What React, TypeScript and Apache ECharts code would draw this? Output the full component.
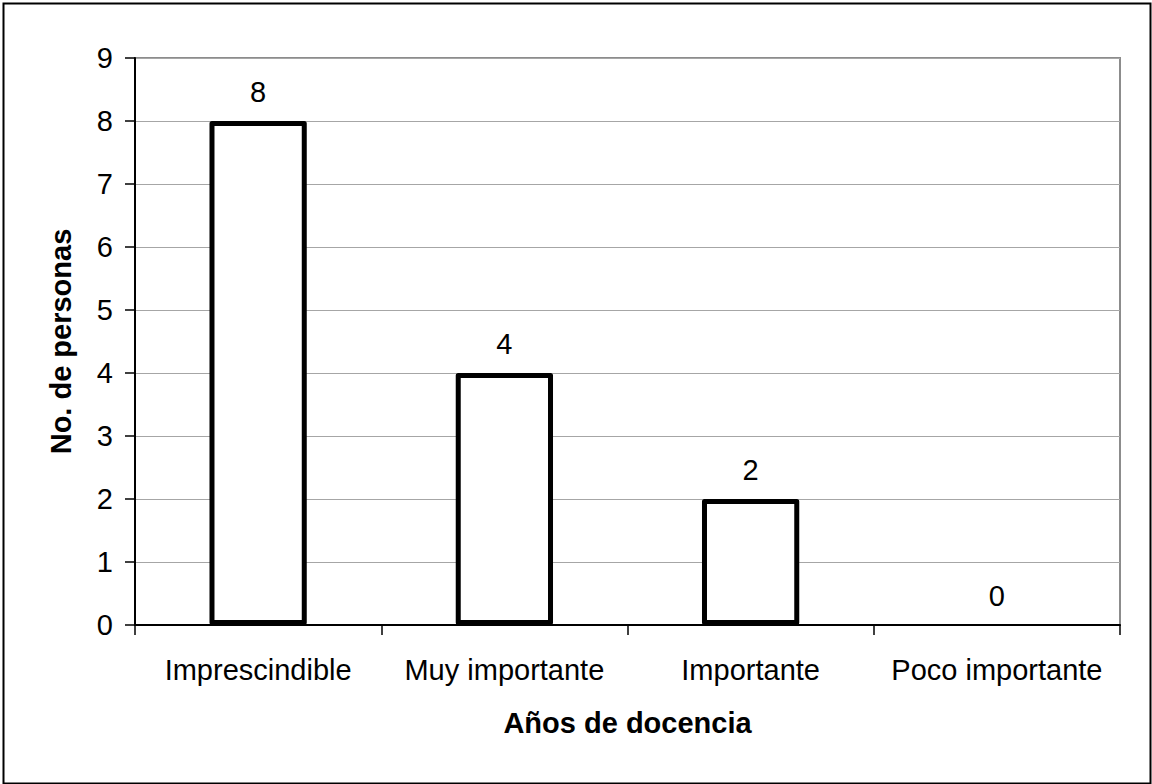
import React, { useEffect, useRef } from "react";
import * as echarts from "echarts";

const categories = ["Imprescindible", "Muy importante", "Importante", "Poco importante"];
const values = [8, 4, 2, 0];
const yTicks = { min: 0, max: 9, interval: 1 };
const xTitle = "Años de docencia";
const yTitle = "No. de personas";

const FONT = "'Liberation Sans', Arial, sans-serif";

export default function App() {
  const ref = useRef<HTMLDivElement>(null);
  useEffect(() => {
    if (!ref.current) return;
    const chart = echarts.init(ref.current, null, { renderer: "svg" });
    chart.setOption({
      animation: false,
      backgroundColor: "#ffffff",
      textStyle: { fontFamily: FONT },
      grid: {
        left: 135,
        top: 58,
        right: 32,
        bottom: 159,
        show: true,
        borderColor: "#8c8c8c",
        borderWidth: 2,
        backgroundColor: "transparent",
      },
      xAxis: {
        type: "category",
        data: categories,
        boundaryGap: true,
        name: xTitle,
        nameLocation: "middle",
        nameGap: 83,
        nameTextStyle: { fontFamily: FONT, fontSize: 29, fontWeight: "bold", color: "#000" },
        axisLine: { show: true, lineStyle: { color: "#000", width: 2 } },
        axisTick: { show: true, alignWithLabel: false, length: 10, lineStyle: { color: "#000", width: 1.5 } },
        axisLabel: { fontFamily: FONT, fontSize: 29, color: "#000", margin: 30, interval: 0 },
        splitLine: { show: false },
      },
      yAxis: {
        type: "value",
        min: yTicks.min,
        max: yTicks.max,
        interval: yTicks.interval,
        name: yTitle,
        nameLocation: "middle",
        nameGap: 60,
        nameTextStyle: { fontFamily: FONT, fontSize: 29, fontWeight: "bold", color: "#000" },
        axisLine: { show: true, lineStyle: { color: "#000", width: 2 } },
        axisTick: { show: true, length: 10, lineStyle: { color: "#000", width: 1.5 } },
        axisLabel: { fontFamily: FONT, fontSize: 29, color: "#000", margin: 22 },
        splitLine: { show: true, lineStyle: { color: "#a6a6a6", width: 1 } },
      },
      series: [
        {
          type: "bar",
          barWidth: "39.5%",
          data: values.map((v) => ({
            value: v,
            itemStyle: { borderWidth: v === 0 ? 0 : 5 },
          })),
          itemStyle: { color: "#ffffff", borderColor: "#000000", borderWidth: 5, borderJoin: "round" },
          label: {
            show: true,
            position: "top",
            distance: 15,
            fontFamily: FONT,
            fontSize: 29,
            color: "#000",
          },
        },
      ],
      graphic: [
        {
          type: "rect",
          left: 1,
          top: 1,
          shape: { x: 0, y: 0, width: 1147, height: 780 },
          style: { fill: "none", stroke: "#000", lineWidth: 2 },
          silent: true,
        },
      ],
    });
    return () => chart.dispose();
  }, []);
  return (
    <div
      ref={ref}
      style={{ position: "fixed", left: 0, top: 0, width: 1152, height: 784 }}
    />
  );
}
